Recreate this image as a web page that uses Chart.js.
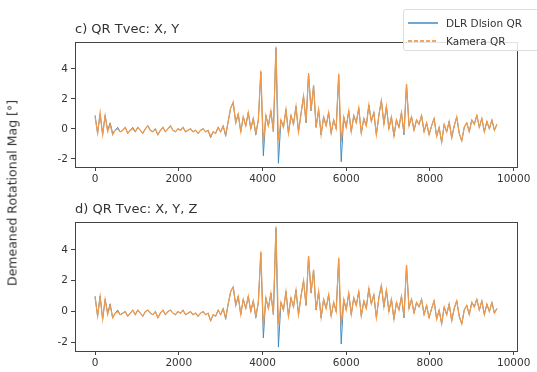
<!DOCTYPE html>
<html>
<head>
<meta charset="utf-8">
<script src="https://cdn.jsdelivr.net/npm/chart.js@4"></script>
<style>
  html, body { margin: 0; padding: 0; background: #fff; }
  body { width: 537px; height: 372px; position: relative; overflow: hidden; font-family: "DejaVu Sans", sans-serif; }
  .box { position: absolute; left: 0; width: 537px; }
  #ylab { position: absolute; left: 12px; top: 193px; transform: translate(-50%, -50%) rotate(-90deg);
          white-space: nowrap; font-size: 12.5px; color: #333; z-index: 3; }
  #legend { position: absolute; left: 403px; top: 9px; width: 140px; height: 40px; background: rgba(255,255,255,0.85);
            border: 1px solid #ddd; border-radius: 3px; z-index: 4; font-size: 10.5px; color: #333; }
  .row { position: absolute; left: 4px; height: 14px; display: flex; align-items: center; }
  .sw { width: 30px; height: 1.5px; margin-right: 8px; }
</style>
</head>
<body>
<div class="box" style="top:0;height:186px"><canvas id="c1"></canvas></div>
<div class="box" style="top:180px;height:192px"><canvas id="c2"></canvas></div>
<div id="ylab">Demeaned Rotational Mag [°]</div>
<div id="legend">
  <div class="row" style="top:6px"><div class="sw" style="background:#6fa8d6"></div>DLR Dlsion QR</div>
  <div class="row" style="top:24px"><div class="sw" style="background:repeating-linear-gradient(90deg,#f5a55e 0 4px,transparent 4px 6px)"></div>Kamera QR</div>
</div>
<script>
// samples every 60 frames, 0 .. 9600
const sampleStep = 60;
const xTicks = [0, 2000, 4000, 6000, 8000, 10000];
const yTicks = [-2, 0, 2, 4];
const titles = ['c) QR Tvec: X, Y', 'd) QR Tvec: X, Y, Z'];

// c) X, Y
const kameraXY = [
  0.8, -0.3, 1.1, -0.4, 0.9, -0.2, 0.3, -0.4, -0.1, 0.0,
  -0.2, -0.1, 0.1, -0.3, -0.1, 0.0, -0.2, 0.1, -0.1, -0.3,
  0.0, 0.2, -0.1, -0.2, 0.0, -0.4, -0.1, 0.1, -0.2, 0.0,
  0.2, -0.1, -0.2, 0.0, -0.1, 0.1, -0.2, -0.1, 0.0, -0.2,
  -0.1, -0.3, -0.1, 0.0, -0.2, -0.1, -0.5, -0.2, -0.3, 0.1,
  -0.2, 0.2, -0.4, 0.5, 1.4, 1.8, 0.4, 1.0, -0.2, 0.8,
  0.2, 1.1, 0.0, 0.7, -0.3, 0.6, 3.9, -1.0, 0.9, 0.2,
  1.2, -0.2, 5.5, -0.8, 0.6, 0.1, 1.3, -0.3, 0.9, 0.3,
  1.5, -0.2, 1.0, 2.2, 0.4, 3.7, 1.2, 2.9, 0.1, 1.3,
  -0.4, 0.8, 0.2, 1.1, -0.3, 0.6, 0.0, 3.7, -0.9, 0.8,
  0.1, 1.2, -0.2, 0.9, 0.4, 1.4, -0.3, 0.7, 0.2, 1.6,
  0.5, 1.1, -0.4, 0.9, 1.9, 0.3, 1.5, 0.0, 0.8, -0.5,
  0.6, 0.1, 1.1, -0.3, 3.0, 0.2, 0.8, -0.1, 0.6, 0.3,
  0.9, -0.2, 0.4, -0.4, 0.2, 0.7, -0.5, 0.1, -0.9, 0.3,
  -0.2, 0.5, -0.6, 0.2, 0.8, -0.3, -0.8, 0.1, 0.4, -0.2,
  0.6, 0.3, 0.9, 0.1, 0.7, -0.2, 0.5, 0.0, 0.6, -0.1,
  0.3
];
const dlrXY = [
  0.9, -0.3, 1.0, -0.4, 0.9, -0.1, 0.4, -0.3, -0.1, 0.1,
  -0.2, -0.1, 0.1, -0.3, -0.1, 0.1, -0.2, 0.1, -0.1, -0.3,
  0.0, 0.2, -0.1, -0.2, 0.0, -0.4, -0.1, 0.1, -0.2, 0.0,
  0.2, -0.1, -0.2, 0.0, -0.1, 0.1, -0.2, -0.1, 0.0, -0.2,
  -0.1, -0.3, -0.1, 0.0, -0.2, -0.1, -0.6, -0.2, -0.3, 0.1,
  -0.2, 0.2, -0.5, 0.5, 1.4, 1.7, 0.4, 1.0, -0.2, 0.8,
  0.2, 1.1, 0.0, 0.7, -0.4, 0.6, 3.8, -1.8, 0.9, 0.2,
  1.2, -0.2, 5.4, -2.3, 0.6, 0.1, 1.3, -0.3, 0.9, 0.3,
  1.5, -0.2, 1.0, 2.2, 0.4, 3.7, 1.2, 2.9, 0.1, 1.3,
  -0.4, 0.8, 0.2, 1.1, -0.3, 0.6, 0.0, 3.6, -2.2, 0.8,
  0.1, 1.2, -0.2, 0.9, 0.4, 1.4, -0.3, 0.7, 0.2, 1.6,
  0.5, 1.1, -0.4, 0.9, 1.9, 0.3, 1.5, 0.0, 0.8, -0.5,
  0.6, 0.1, 1.1, -0.4, 3.0, 0.2, 0.8, -0.1, 0.6, 0.3,
  0.9, -0.2, 0.4, -0.4, 0.2, 0.7, -0.5, 0.1, -0.9, 0.3,
  -0.2, 0.5, -0.6, 0.2, 0.8, -0.3, -0.8, 0.1, 0.4, -0.2,
  0.6, 0.3, 0.9, 0.1, 0.7, -0.2, 0.5, 0.0, 0.6, -0.1,
  0.3
];

// d) X, Y, Z
const kameraXYZ = [
  0.9, -0.3, 1.0, -0.5, 0.8, -0.2, 0.4, -0.4, -0.1, 0.0,
  -0.2, -0.1, 0.0, -0.3, -0.1, 0.1, -0.2, 0.1, -0.1, -0.3,
  0.0, 0.1, -0.1, -0.2, 0.0, -0.4, -0.1, 0.1, -0.2, 0.0,
  0.1, -0.1, -0.2, 0.0, -0.1, 0.1, -0.2, -0.1, 0.0, -0.2,
  -0.1, -0.3, -0.1, 0.0, -0.2, -0.1, -0.6, -0.2, -0.3, 0.1,
  -0.2, 0.2, -0.4, 0.5, 1.3, 1.6, 0.4, 1.0, -0.2, 0.8,
  0.2, 1.0, 0.0, 0.7, -0.3, 0.6, 3.9, -1.0, 0.9, 0.2,
  1.2, -0.2, 5.5, -0.8, 0.6, 0.1, 1.3, -0.3, 0.9, 0.3,
  1.4, -0.2, 1.0, 2.0, 0.4, 3.6, 1.2, 2.7, 0.1, 1.3,
  -0.4, 0.8, 0.2, 1.1, -0.3, 0.6, 0.0, 3.5, -0.9, 0.8,
  0.1, 1.2, -0.2, 0.9, 0.4, 1.3, -0.3, 0.7, 0.2, 1.5,
  0.5, 1.1, -0.4, 0.9, 1.7, 0.3, 1.4, 0.0, 0.8, -0.5,
  0.6, 0.1, 1.0, -0.3, 3.0, 0.2, 0.8, -0.1, 0.6, 0.3,
  0.8, -0.2, 0.4, -0.4, 0.2, 0.7, -0.5, 0.1, -0.8, 0.3,
  -0.2, 0.5, -0.6, 0.2, 0.7, -0.3, -0.8, 0.1, 0.4, -0.2,
  0.6, 0.3, 0.8, 0.1, 0.7, -0.2, 0.5, 0.0, 0.6, -0.1,
  0.2
];
const dlrXYZ = [
  1.0, -0.3, 1.0, -0.5, 0.8, -0.1, 0.5, -0.4, -0.1, 0.1,
  -0.2, -0.1, 0.0, -0.3, -0.1, 0.1, -0.2, 0.1, -0.1, -0.3,
  0.0, 0.1, -0.1, -0.2, 0.0, -0.4, -0.1, 0.1, -0.2, 0.0,
  0.1, -0.1, -0.2, 0.0, -0.1, 0.1, -0.2, -0.1, 0.0, -0.2,
  -0.1, -0.3, -0.1, 0.0, -0.2, -0.1, -0.6, -0.2, -0.3, 0.1,
  -0.2, 0.2, -0.5, 0.5, 1.3, 1.6, 0.4, 1.0, -0.2, 0.8,
  0.2, 1.0, 0.0, 0.7, -0.4, 0.6, 3.8, -1.7, 0.9, 0.2,
  1.2, -0.2, 5.4, -2.3, 0.6, 0.1, 1.3, -0.3, 0.9, 0.3,
  1.4, -0.2, 1.0, 2.0, 0.4, 3.6, 1.2, 2.7, 0.1, 1.3,
  -0.4, 0.8, 0.2, 1.1, -0.3, 0.6, 0.0, 3.4, -2.1, 0.8,
  0.1, 1.2, -0.2, 0.9, 0.4, 1.3, -0.3, 0.7, 0.2, 1.5,
  0.5, 1.1, -0.4, 0.9, 1.7, 0.3, 1.4, 0.0, 0.8, -0.5,
  0.6, 0.1, 1.0, -0.4, 3.0, 0.2, 0.8, -0.1, 0.6, 0.3,
  0.8, -0.2, 0.4, -0.4, 0.2, 0.7, -0.5, 0.1, -0.8, 0.3,
  -0.2, 0.5, -0.6, 0.2, 0.7, -0.3, -0.8, 0.1, 0.4, -0.2,
  0.6, 0.3, 0.8, 0.1, 0.7, -0.2, 0.5, 0.0, 0.6, -0.1,
  0.2
];

const BLUE = '#3f8cc4';
const ORANGE = '#f29a4a';
const AXIS = '#444';
const TICKFONT = { family: 'DejaVu Sans', size: 10.5 };

function toPoints(vals) {
  return vals.map((v, i) => ({ x: i * sampleStep, y: v }));
}

// matplotlib style full frame round the axes
const frame = {
  id: 'frame',
  afterDraw(chart) {
    const a = chart.chartArea, ctx = chart.ctx;
    ctx.save();
    ctx.strokeStyle = AXIS;
    ctx.lineWidth = 1;
    ctx.strokeRect(Math.round(a.left) + 0.5, Math.round(a.top) + 0.5,
                   Math.round(a.right - a.left), Math.round(a.bottom - a.top));
    ctx.restore();
  }
};

function lagPlot(id, title, kamera, dlr, xHeight) {
  new Chart(document.getElementById(id), {
    type: 'line',
    data: {
      datasets: [
        { label: 'Kamera QR', data: toPoints(kamera), borderColor: ORANGE, borderWidth: 1.2,
          pointRadius: 0, order: 0 },
        { label: 'DLR Dlsion QR', data: toPoints(dlr), borderColor: BLUE, borderWidth: 1,
          pointRadius: 0, order: 1 }
      ]
    },
    options: {
      responsive: true,
      maintainAspectRatio: false,
      animation: false,
      layout: { padding: { left: 0, right: 20, top: 0, bottom: 0 } },
      plugins: {
        legend: { display: false },
        tooltip: { enabled: false },
        title: {
          display: true, text: title, align: 'start', fullSize: false, color: '#333',
          font: { family: 'DejaVu Sans', size: 13, weight: 'normal' },
          padding: { top: 22, bottom: 4.4 }
        }
      },
      scales: {
        x: {
          type: 'linear', min: -480, max: 10080,
          afterBuildTicks: s => { s.ticks = xTicks.map(v => ({ value: v })); },
          afterFit: s => { s.height = xHeight; },
          grid: { drawOnChartArea: false, drawTicks: true, tickLength: 4, color: AXIS },
          border: { color: AXIS },
          ticks: { color: '#333', font: TICKFONT, padding: 2, maxRotation: 0,
                   callback: v => String(v) }
        },
        y: {
          min: -2.55, max: 5.8,
          afterBuildTicks: s => { s.ticks = yTicks.map(v => ({ value: v })); },
          afterFit: s => { s.width = 75; },
          grid: { drawOnChartArea: false, drawTicks: true, tickLength: 4, color: AXIS },
          border: { color: AXIS },
          ticks: { color: '#333', font: TICKFONT, padding: 3, callback: v => String(v) }
        }
      }
    },
    plugins: [frame]
  });
}

lagPlot('c1', titles[0], kameraXY, dlrXY, 19);
lagPlot('c2', titles[1], kameraXYZ, dlrXYZ, 21);
</script>
</body>
</html>
